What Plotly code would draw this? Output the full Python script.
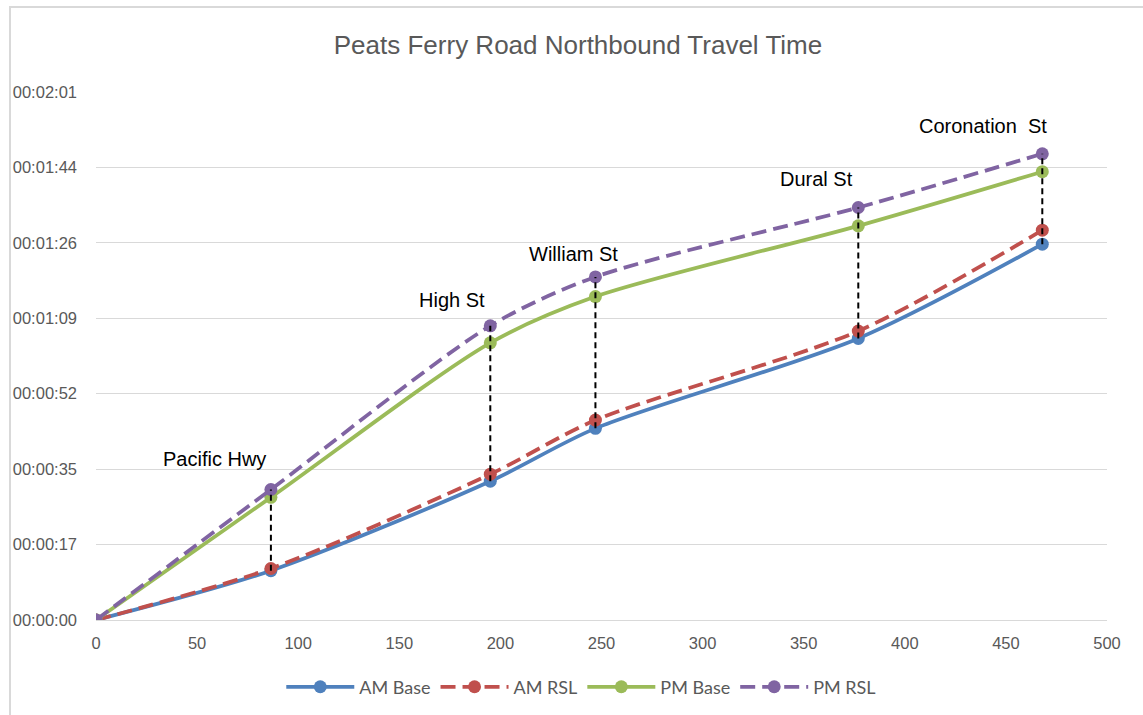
import plotly.graph_objects as go

# ---- data ----
distance = [0, 86.5, 195, 247, 377, 468]
stops = ["", "Pacific Hwy", "High St", "William St", "Dural St", "Coronation  St"]
am_base = [0, 11.3, 31.8, 43.9, 64.5, 86.1]   # seconds
am_rsl = [0, 11.8, 33.4, 45.8, 66.2, 89.3]
pm_base = [0, 28.1, 63.5, 74.1, 90.3, 102.7]
pm_rsl = [0, 29.9, 67.4, 78.6, 94.5, 106.8]
y_tickvals = [0, 17.28, 34.56, 51.84, 69.12, 86.4, 103.68, 120.96]
y_ticktext = ["00:00:00", "00:00:17", "00:00:35", "00:00:52", "00:01:09",
              "00:01:26", "00:01:44", "00:02:01"]
x_tickvals = [0, 50, 100, 150, 200, 250, 300, 350, 400, 450, 500]

series = [
    ("AM Base", am_base, "#4F81BD", "solid"),
    ("AM RSL", am_rsl, "#C0504D", "15px,7px"),
    ("PM Base", pm_base, "#9BBB59", "solid"),
    ("PM RSL", pm_rsl, "#8064A2", "15px,7px"),
]

fig = go.Figure()
for name, ys, col, dash in series:
    fig.add_trace(go.Scatter(
        x=distance, y=ys, name=name, mode="lines+markers",
        line=dict(color=col, width=3.75, dash=dash, shape="spline", smoothing=0.8),
        marker=dict(color=col, size=13),
    ))

# high-low drop lines
hx, hy = [], []
for i in range(1, len(distance)):
    lo = min(am_base[i], am_rsl[i], pm_base[i], pm_rsl[i])
    hi = max(am_base[i], am_rsl[i], pm_base[i], pm_rsl[i])
    hx += [distance[i], distance[i], None]
    hy += [lo, hi, None]
fig.add_trace(go.Scatter(x=hx, y=hy, mode="lines", showlegend=False, hoverinfo="skip",
                         line=dict(color="black", width=2, dash="6px,4px")))

shifts = [None, (-56, 30), (-38, 26), (-22, 23), (-42, 29), (-59, 28)]
for i in range(1, len(distance)):
    fig.add_annotation(x=distance[i], y=pm_rsl[i], text=stops[i], showarrow=False,
                       xshift=shifts[i][0], yshift=shifts[i][1],
                       font=dict(family="Liberation Sans, Arial", size=20, color="black"))

tickfont = dict(family="Liberation Sans, Arial", size=16.5, color="#595959")
fig.update_layout(
    width=1143, height=715,
    margin=dict(l=96, r=36, t=92, b=95, autoexpand=False),
    paper_bgcolor="white", plot_bgcolor="white",
    title=dict(text="Peats Ferry Road Northbound Travel Time", x=(578 - 96) / 1011, xanchor="center",
               xref="paper", y=1 - 45 / 715, yanchor="middle",
               font=dict(family="Liberation Sans, Arial", size=26, color="#595959")),
    xaxis=dict(range=[0, 500], tickvals=x_tickvals, showgrid=False, zeroline=False,
               showline=True, linecolor="#D9D9D9", linewidth=1, ticks="",
               tickfont=tickfont, ticklabelstandoff=8, automargin=False),
    yaxis=dict(range=[0, 120.96], tickvals=y_tickvals, ticktext=y_ticktext,
               showgrid=True, gridcolor="#D9D9D9", gridwidth=1, zeroline=False,
               ticks="", tickfont=tickfont, ticklabelstandoff=18, automargin=False),
    legend=dict(orientation="h", x=0.48, xanchor="center", y=-0.127, yanchor="middle",
                font=dict(family="Lato, Open Sans", size=18, color="#595959"),
                itemwidth=68),
    shapes=[dict(type="rect", xref="paper", yref="paper",
                 x0=(10 - 96) / 1011, x1=(1160 - 96) / 1011,
                 y0=(620 - 730) / 528, y1=(620 - 7) / 528,
                 line=dict(color="#D9D9D9", width=2), fillcolor="rgba(0,0,0,0)", layer="below")],
)
fig.write_html("out.html", config={"displayModeBar": False},
               post_script="document.body.style.margin='0';document.body.style.overflow='hidden';")
